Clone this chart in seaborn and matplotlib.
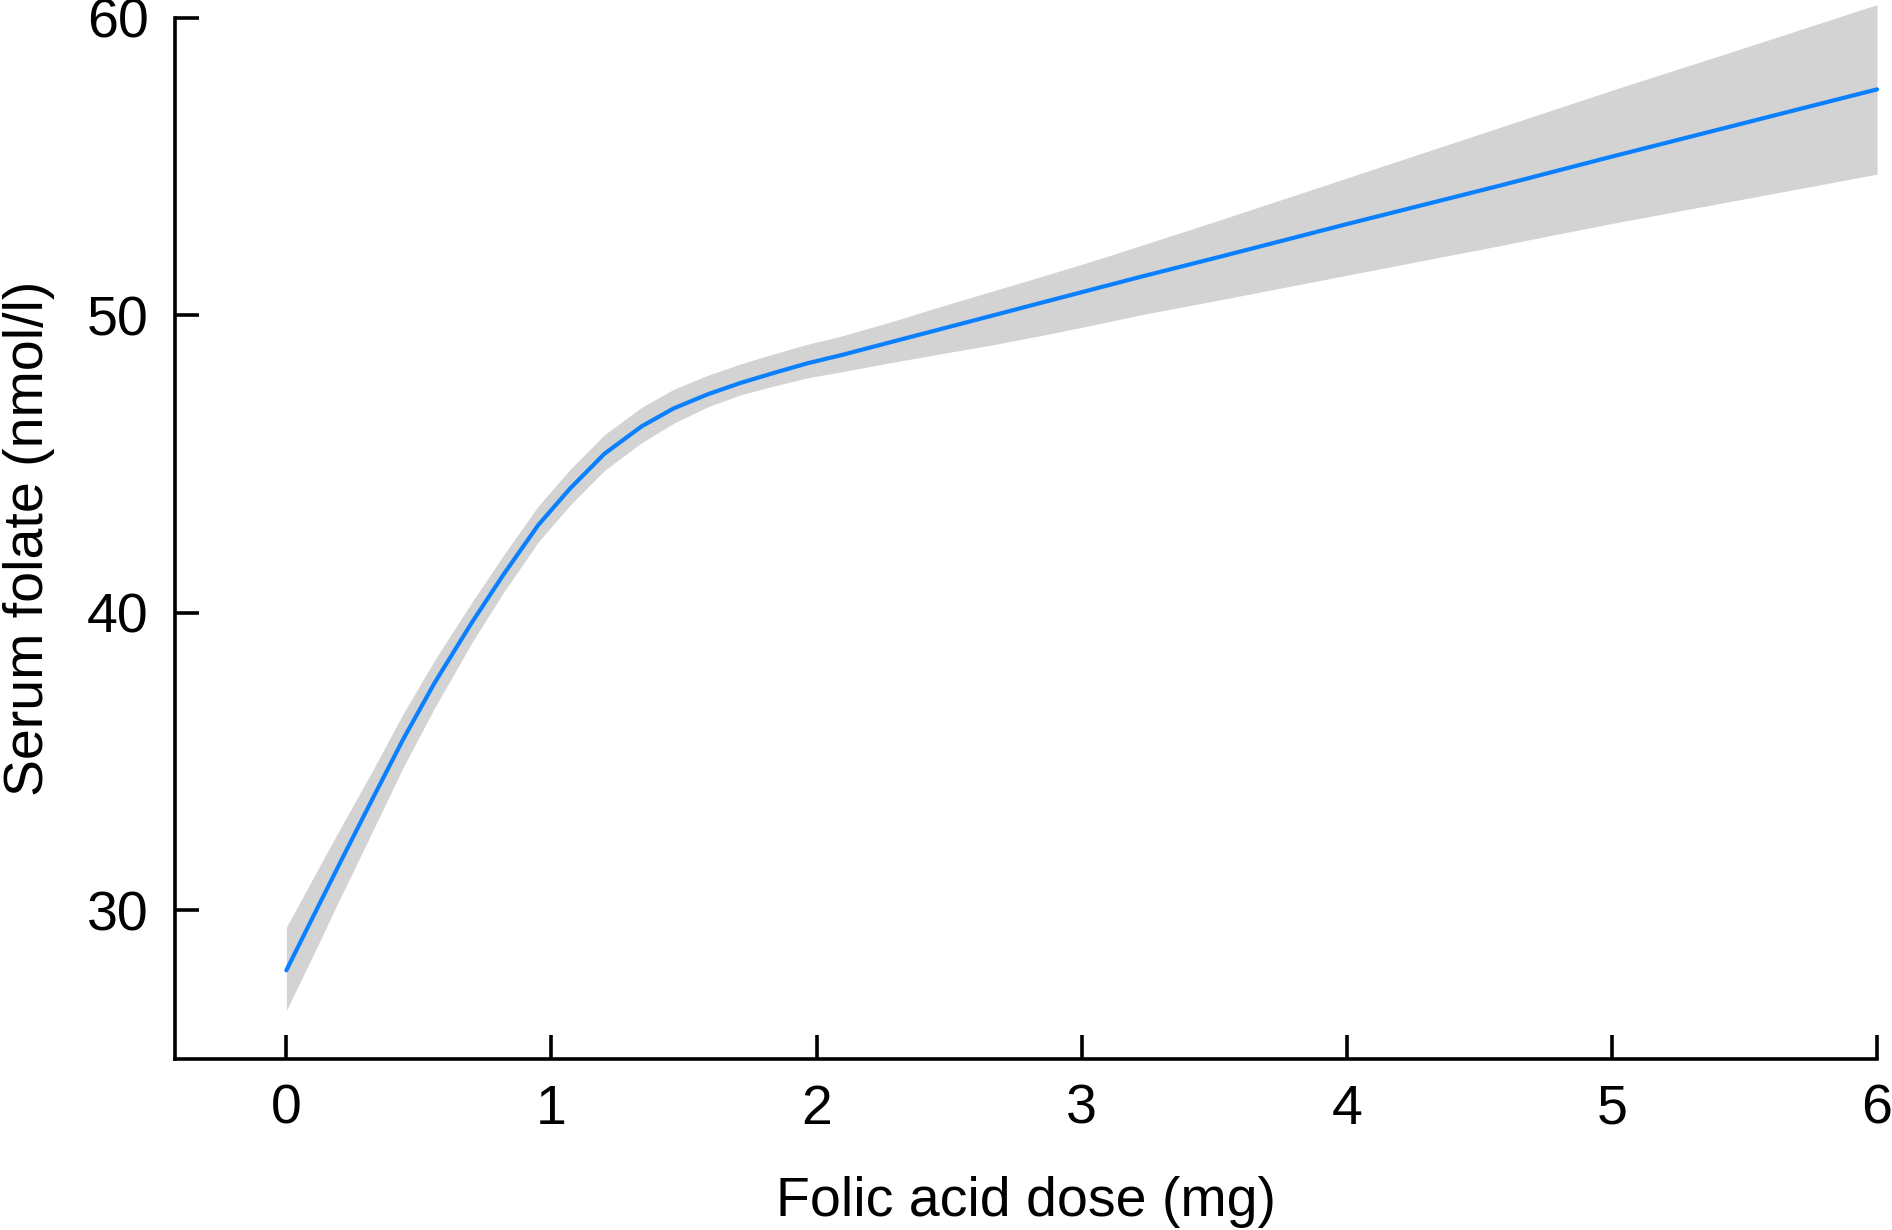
import numpy as np
import pandas as pd
import matplotlib
matplotlib.use("Agg")
import matplotlib.pyplot as plt
import seaborn as sns

# Data
dose = [0.0, 0.1, 0.2, 0.32, 0.44, 0.56, 0.70, 0.82, 0.95, 1.07, 1.2, 1.34,
        1.46, 1.59, 1.713, 1.84, 1.965, 2.091, 2.279, 2.468, 2.657, 2.845,
        3.034, 3.223, 3.525, 4.0, 4.58, 4.77, 5.0, 5.5, 6.0]
folate = [27.98, 29.77, 31.55, 33.66, 35.74, 37.66, 39.68, 41.30, 42.95, 44.18,
          45.35, 46.27, 46.87, 47.35, 47.73, 48.07, 48.39, 48.66, 49.10, 49.54,
          49.98, 50.42, 50.86, 51.30, 51.98, 53.07, 54.37, 54.81, 55.34, 56.47,
          57.60]
upper = [29.43, 31.07, 32.70, 34.61, 36.60, 38.42, 40.36, 41.95, 43.59, 44.82,
         45.99, 46.91, 47.51, 47.99, 48.37, 48.71, 49.03, 49.30, 49.78, 50.30,
         50.80, 51.30, 51.81, 52.35, 53.22, 54.62, 56.33, 56.89, 57.57, 59.00,
         60.45]
lower = [26.63, 28.47, 30.35, 32.56, 34.79, 36.82, 39.00, 40.70, 42.38, 43.62,
         44.79, 45.72, 46.37, 46.93, 47.33, 47.63, 47.90, 48.10, 48.41, 48.71,
         49.00, 49.32, 49.66, 50.02, 50.53, 51.35, 52.35, 52.69, 53.09, 53.92,
         54.75]

x_ticks = [0, 1, 2, 3, 4, 5, 6]
y_ticks = [30, 40, 50, 60]
x_label = "Folic acid dose (mg)"
y_label = "Serum folate (nmol/l)"

sns.set_theme(style="ticks")
plt.rcParams['font.family'] = ['Liberation Sans', 'DejaVu Sans']

df = pd.DataFrame({"dose": dose, "folate": folate})

fig = plt.figure(figsize=(18.92, 12.30), dpi=100)
ax = fig.add_axes([175 / 1892, 171 / 1230, 1702 / 1892, 1041 / 1230])

ax.fill_between(dose, lower, upper, color="#d3d3d3", linewidth=0, clip_on=False, zorder=1)
sns.lineplot(data=df, x="dose", y="folate", ax=ax, color="#0a80ff", linewidth=3.0,
             clip_on=False, zorder=2)

ax.set_xlim(-0.42, 6)
ax.set_ylim(25, 60)
ax.set_xticks(x_ticks)
ax.set_yticks(y_ticks)
ax.set_xticklabels([str(t) for t in x_ticks])
ax.set_yticklabels([str(t) for t in y_ticks])

for side in ["top", "right"]:
    ax.spines[side].set_visible(False)
for side in ["left", "bottom"]:
    ax.spines[side].set_linewidth(2.6)
    ax.spines[side].set_color("black")

ax.tick_params(axis="both", direction="in", length=17, width=2.6, color="black",
               labelsize=40, labelcolor="black")
ax.tick_params(axis="x", pad=18)
ax.tick_params(axis="y", pad=19)

ax.set_xlabel(x_label, fontsize=40, color="black")
ax.set_ylabel(y_label, fontsize=40, color="black")
ax.xaxis.set_label_coords(0.5, -0.112)
ax.yaxis.set_label_coords(-0.0705, 0.5)

ax.grid(False)
fig.savefig("out.png", dpi=100, facecolor="white")
